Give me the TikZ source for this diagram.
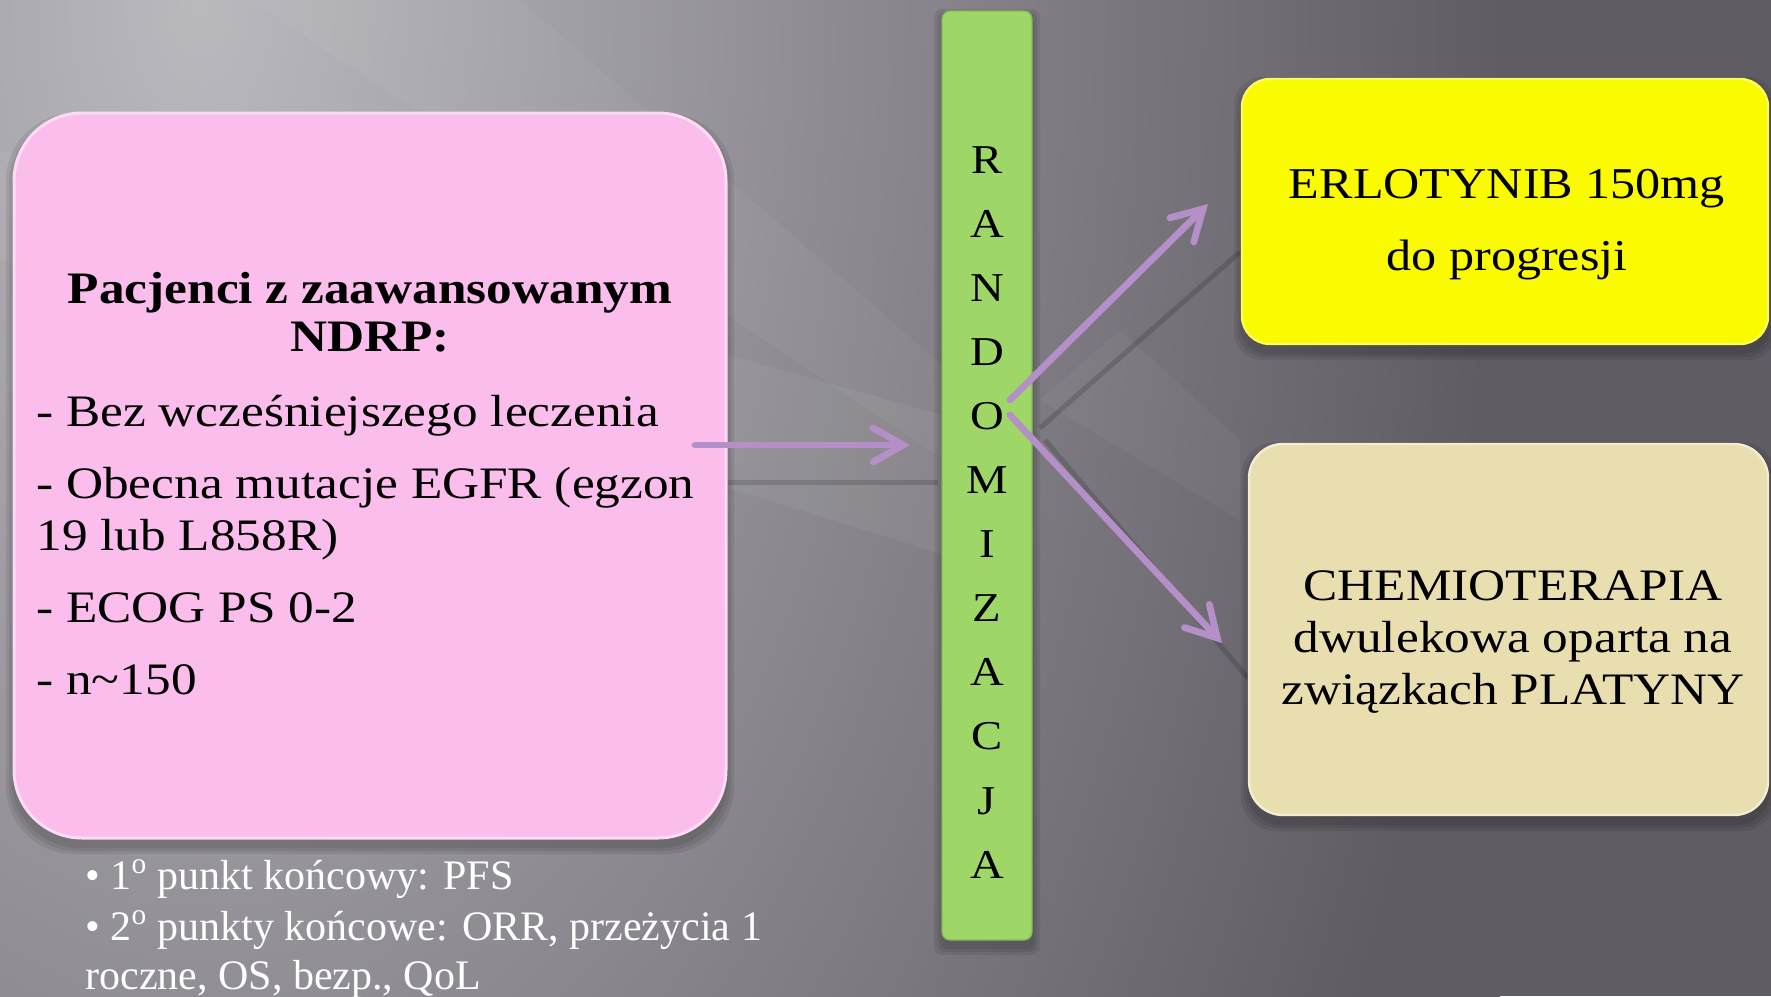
\documentclass[tikz,border=0pt]{standalone}
\usepackage{fontspec}
\setmainfont{Liberation Serif}
\newfontfamily\pal[FakeStretch=1.14]{Liberation Serif}
\newfontfamily\palb[FakeStretch=1.14]{Liberation Serif}
\usetikzlibrary{arrows.meta}
\definecolor{pinkc}{HTML}{FBBDEB}
\definecolor{yellowc}{HTML}{FAFA00}
\definecolor{beigec}{HTML}{E9DEB0}
\definecolor{greenc}{HTML}{9FD668}
\definecolor{arrowc}{HTML}{B48FC8}
\definecolor{bgA}{HTML}{BAB9BE}
\definecolor{bgB}{HTML}{5F5C63}
\begin{document}
\begin{tikzpicture}[x=0.5pt,y=-0.5pt,
  softshadow/.style={fill=black,opacity=0.08},
  pinkbox/.style={fill=pinkc,draw=white!45!pinkc,line width=1.5pt,rounded corners=34pt,inner sep=0pt},
  yellowbox/.style={fill=yellowc,draw=white!35!yellowc,line width=1.2pt,rounded corners=14pt,inner sep=0pt},
  beigebox/.style={fill=beigec,draw=white!45!beigec,line width=1.2pt,rounded corners=17pt,inner sep=0pt},
  greenbar/.style={fill=greenc,draw=greenc!85!black,line width=0.6pt,rounded corners=4pt,inner sep=0pt},
  conn/.style={draw=arrowc,line width=3.4pt,line cap=round,-{Straight Barb[length=15pt,width=17pt,line cap=round]}},
  shadowconn/.style={draw=black,opacity=0.15,line width=2.5pt},
  maintext/.style={inner sep=0pt,font=\pal\fontsize{22.5}{27}\selectfont},
  lettertext/.style={inner sep=0pt,anchor=base,font=\pal\fontsize{20.5}{24}\selectfont},
  notetext/.style={inner sep=0pt,anchor=base west,font=\fontsize{21}{24}\selectfont,text=white}]
\useasboundingbox (0,0) rectangle (1771,996);
% background
\begin{scope}
\clip (0,0) rectangle (1771,996);
\fill[bgB] (0,0) rectangle (1771,996);
\shade[inner color=bgA,outer color=bgB] (-1100,-2200) rectangle (1500,2200);
\fill[bgB] (1480,650) rectangle (1771,996);
\fill[white,opacity=0.05] (0,150) -- (0,260) -- (960,560) -- (960,420) -- cycle;
\fill[white,opacity=0.04] (250,0) -- (520,0) -- (960,380) -- (960,470) -- cycle;
\fill[white,opacity=0.04] (1040,400) -- (1120,330) -- (1240,440) -- (1240,520) -- cycle;
\end{scope}
% shadow connectors
\coordinate (s1a) at (726,482);
\coordinate (s1b) at (938,482);
\coordinate (s2a) at (1040,428);
\coordinate (s2b) at (1240,252);
\coordinate (s3a) at (1045,440);
\coordinate (s3b) at (1248,678);
\draw[shadowconn] (s1a) -- (s1b);
\draw[shadowconn] (s2a) -- (s2b);
\draw[shadowconn] (s3a) -- (s3b);
% soft box shadows
\foreach \e in {2,5,8}{
  \fill[softshadow,rounded corners=34pt] (14-\e,121-\e) rectangle (726+\e,846+\e);
  \fill[softshadow,rounded corners=4pt] (942-\e,17-\e) rectangle (1032+\e,947+\e);
  \fill[softshadow,rounded corners=14pt] (1242-\e,85-\e) rectangle (1768+\e,352+\e);
  \fill[softshadow,rounded corners=17pt] (1249-\e,450-\e) rectangle (1768+\e,823+\e);
}
% boxes
\node[pinkbox,minimum width=356pt,minimum height=362.5pt] (pat) at (370,475.5) {};
\node[greenbar,minimum width=45pt,minimum height=464.5pt] (rand) at (987,475.5) {};
\node[yellowbox,minimum width=263pt,minimum height=132.5pt] (erl) at (1505,211.5) {};
\node[beigebox,minimum width=259.5pt,minimum height=185.5pt] (chem) at (1508.5,629.5) {};
% pink text
\node[maintext,anchor=base,font=\palb\bfseries\fontsize{22.5}{27}\selectfont] (t1) at (370,303) {Pacjenci z zaawansowanym};
\node[maintext,anchor=base,font=\palb\bfseries\fontsize{22.5}{27}\selectfont] (t2) at (370,351) {NDRP:};
\node[maintext,anchor=base west] (b1) at (36,426) {- Bez wcześniejszego leczenia};
\node[maintext,anchor=base west] (b2) at (36,498) {- Obecna mutacje EGFR (egzon};
\node[maintext,anchor=base west] (b3) at (36,550) {19 lub L858R)};
\node[maintext,anchor=base west] (b4) at (36,622) {- ECOG PS 0-2};
\node[maintext,anchor=base west] (b5) at (36,694) {- n\textasciitilde150};
% randomization letters
\foreach \l [count=\i] in {R,A,N,D,O,M,I,Z,A,C,J,A}
  \node[lettertext] (l\i) at (987,{158+64.1*(\i-1)+15}) {\l};
% right texts
\node[maintext,anchor=base,font=\pal\fontsize{22}{27}\selectfont] (e1) at (1507,198) {ERLOTYNIB 150mg};
\node[maintext,anchor=base,font=\pal\fontsize{22}{27}\selectfont] (e2) at (1507,270) {do progresji};
\node[maintext,anchor=base] (c1) at (1513,600) {CHEMIOTERAPIA};
\node[maintext,anchor=base] (c2) at (1513,652) {dwulekowa oparta na};
\node[maintext,anchor=base] (c3) at (1513,704) {związkach PLATYNY};
% notes
\node[notetext] (n1) at (85,889) {• 1\textsuperscript{o} punkt końcowy: PFS};
\node[notetext] (n2) at (85,940) {• 2\textsuperscript{o} punkty końcowe: ORR, przeżycia 1};
\node[notetext] (n3) at (85,989) {roczne, OS, bezp., QoL};
% arrows
\coordinate (a1s) at (695,445);
\coordinate (a1e) at (910,445);
\coordinate (a2s) at (1010,400);
\coordinate (a2e) at (1208,204);
\coordinate (a3s) at (1010,415);
\coordinate (a3e) at (1222,643);
\draw[conn] (a1s) -- (a1e);
\draw[conn] (a2s) -- (a2e);
\draw[conn] (a3s) -- (a3e);
\end{tikzpicture}
\end{document}
